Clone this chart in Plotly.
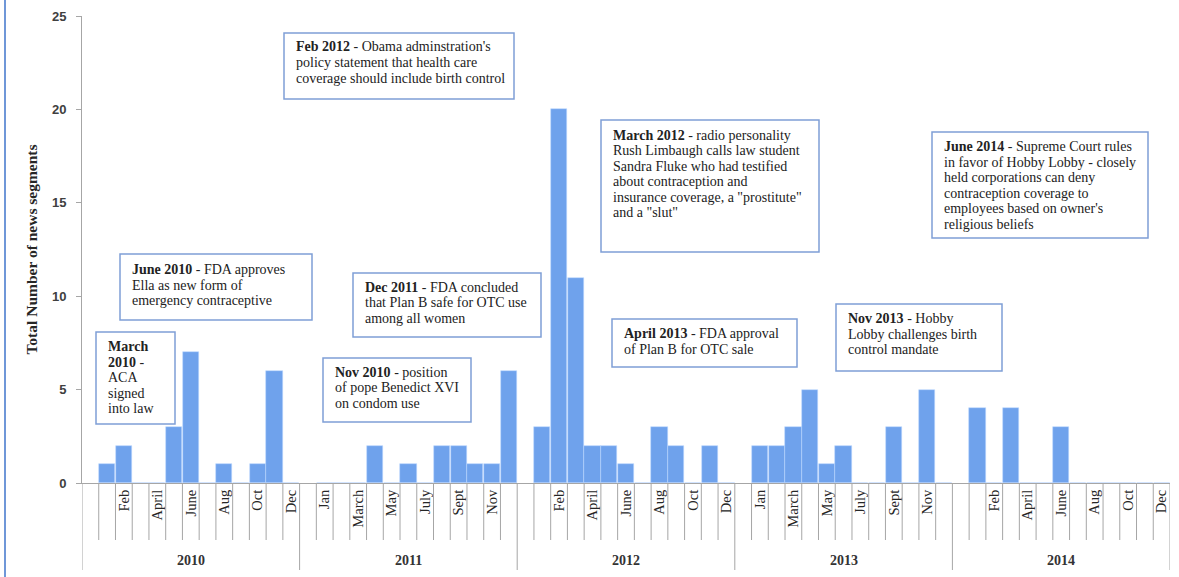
import plotly.graph_objects as go

# ---------------- data ----------------
years = ["2010", "2011", "2012", "2013", "2014"]
months = ["Jan", "Feb", "March", "April", "May", "June",
          "July", "Aug", "Sept", "Oct", "Nov", "Dec"]
segments_2010 = [1, 2, 0, 0, 3, 7, 0, 1, 0, 1, 6, 0]
segments_2011 = [0, 0, 0, 2, 0, 1, 0, 2, 2, 1, 1, 6]
segments_2012 = [3, 20, 11, 2, 2, 1, 0, 3, 2, 0, 2, 0]
segments_2013 = [2, 2, 3, 5, 1, 2, 0, 0, 3, 0, 5, 0]
segments_2014 = [4, 0, 4, 0, 0, 3, 0, 0, 0, 0, 0, 0]
y_tick_values = [0, 5, 10, 15, 20, 25]
y_title = "Total Number of news segments"

events = [
    [("March", ""), ("2010", " -"), ("", "ACA"), ("", "signed"), ("", "into law")],
    [("June 2010", " - FDA approves"), ("", "Ella as new form of"), ("", "emergency contraceptive")],
    [("Feb 2012", " - Obama adminstration's"), ("", "policy statement that health care"),
     ("", "coverage should include birth control")],
    [("Dec 2011", " - FDA concluded"), ("", "that Plan B safe for OTC use"), ("", "among all women")],
    [("Nov 2010", " - position"), ("", "of pope Benedict XVI"), ("", "on condom use")],
    [("March 2012", " - radio personality"), ("", "Rush Limbaugh calls law student"),
     ("", "Sandra Fluke who had testified"), ("", "about contraception and"),
     ("", "insurance coverage, a \"prostitute\""), ("", "and a \"slut\"")],
    [("April 2013", " - FDA approval"), ("", "of Plan B for OTC sale")],
    [("Nov 2013", " - Hobby"), ("", "Lobby challenges birth"), ("", "control mandate")],
    [("June 2014", " - Supreme Court rules"), ("", "in favor of Hobby Lobby - closely"),
     ("", "held corporations can deny"), ("", "contraception coverage to"),
     ("", "employees based on owner's"), ("", "religious beliefs")],
]
# ---------------- layout geometry (pixels) ----------------
W, H = 1179, 577
L, R, T, B = 82, 1170, 16, 483
box_geom = [  # left, top, right, bottom, first-line centre y
    (96, 332, 175, 424, 346.5),
    (120, 254, 312, 320, 269.5),
    (284, 33, 514, 99, 47),
    (353, 273, 541, 337, 287),
    (323, 358, 471, 422, 372),
    (601, 120, 819, 252, 135),
    (612, 319, 797, 367, 333.5),
    (836, 304, 1002, 371, 318.5),
    (932, 132, 1148, 238, 146.5),
]
LINE_H = 15.5


def px(x):
    return (x - L) / (R - L)


def py(y):
    return (B - y) / (B - T)


all_segments = [segments_2010, segments_2011, segments_2012, segments_2013, segments_2014]
SLOTS = 13  # one blank slot + 12 months per year group

xs, ys, hover = [], [], []
for yi, vals in enumerate(all_segments):
    for mi, v in enumerate(vals):
        xs.append(yi * SLOTS + 1 + mi + 0.5)
        ys.append(v)
        hover.append(f"{months[mi]} {years[yi]}")

n_slots = SLOTS * len(years)
tickvals, ticktext = [], []
for g in range(n_slots):
    s = g % SLOTS
    if g % 2 == 0 and s != 0:
        tickvals.append(g + 0.5)
        ticktext.append(months[s - 1])

fig = go.Figure()
fig.add_trace(go.Bar(
    x=xs, y=ys, width=0.97, customdata=hover,
    hovertemplate="%{customdata}: %{y}<extra></extra>",
    marker=dict(color="#6fa2ec", line=dict(color="rgba(190,215,255,0.9)", width=0.6)),
))

shapes = []
grid_col = "#a6a6a6"
for g in range(1, n_slots):
    if g % SLOTS != 0:
        shapes.append(dict(type="line", xref="x", yref="paper", x0=g, x1=g,
                           y0=0, y1=py(540), line=dict(color=grid_col, width=1)))
for g in range(0, n_slots + 1, SLOTS):
    shapes.append(dict(type="line", xref="x", yref="paper", x0=g, x1=g,
                       y0=0, y1=py(570), line=dict(color=grid_col, width=1)))
# chart area left border
shapes.append(dict(type="line", xref="paper", yref="paper", x0=px(5), x1=px(5),
                   y0=py(0), y1=py(577), line=dict(color="#6f97d8", width=2)))

annotations = []
txt_col = "#222222"
for (l, t, r, b, y0), lines in zip(box_geom, events):
    shapes.append(dict(type="rect", xref="paper", yref="paper",
                       x0=px(l), x1=px(r), y0=py(b), y1=py(t),
                       line=dict(color="#7f9fd6", width=1.5), fillcolor="white"))
    for i, (bold, rest) in enumerate(lines):
        text = (f"<b>{bold}</b>" if bold else "") + rest
        annotations.append(dict(
            xref="paper", yref="paper", x=px(l + 10), y=py(y0 + i * LINE_H),
            xanchor="left", yanchor="middle", showarrow=False, text=text,
            font=dict(family="Liberation Serif", size=14, color=txt_col)))

for yi, yr in enumerate(years):
    annotations.append(dict(
        xref="x", yref="paper", x=yi * SLOTS + SLOTS / 2, y=py(560),
        xanchor="center", yanchor="middle", showarrow=False, text=f"<b>{yr}</b>",
        font=dict(family="Liberation Serif", size=14, color="#333333")))

fig.update_layout(
    width=W, height=H,
    margin=dict(l=L, r=W - R, t=T, b=H - B, pad=0),
    paper_bgcolor="white", plot_bgcolor="white",
    showlegend=False, bargap=0,
    shapes=shapes, annotations=annotations,
    xaxis=dict(range=[0, n_slots], tickmode="array", tickvals=tickvals, ticktext=ticktext,
               tickangle=-90, ticks="", showgrid=False, zeroline=False,
               showline=True, linecolor=grid_col, linewidth=1,
               tickfont=dict(family="Liberation Serif", size=14.5, color="#262626")),
    yaxis=dict(range=[0, 25], tickmode="array", tickvals=y_tick_values,
               ticks="outside", ticklen=5, tickcolor=grid_col, showgrid=False,
               zeroline=False, showline=True, linecolor=grid_col, linewidth=1,
               ticklabelstandoff=7,
               tickfont=dict(family="Liberation Sans", size=13, color="#404040", weight="bold"),
               title=dict(text=y_title, standoff=10,
                          font=dict(family="Liberation Serif", size=15.5, color="#262626",
                                    weight="bold"))),
)

fig.write_html("out.html", config={"displayModeBar": False},
               post_script="document.body.style.margin='0';")
